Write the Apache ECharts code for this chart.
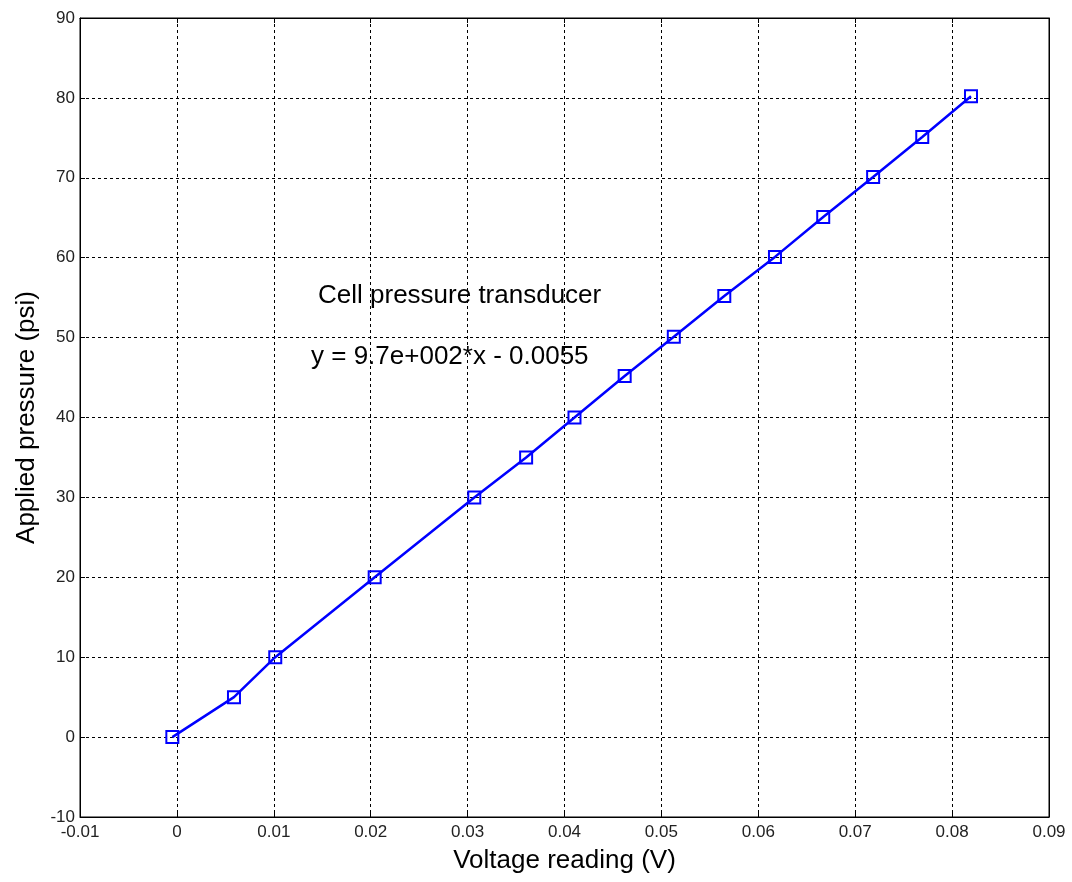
<!DOCTYPE html>
<html>
<head>
<meta charset="utf-8">
<script src="https://cdn.jsdelivr.net/npm/echarts@6/dist/echarts.min.js"></script>
<style>
  html, body { margin: 0; padding: 0; background: #fff; }
  #chart { width: 1072px; height: 882px; }
</style>
</head>
<body>
<div id="chart"></div>
<script>
// Calibration readings: transducer voltage (V) vs applied pressure (psi)
const voltage = [-0.00047, 0.00589, 0.01015, 0.02041, 0.03069, 0.03604, 0.04103, 0.04621,
                 0.05128, 0.05649, 0.06172, 0.06670, 0.07185, 0.07692, 0.08195];
const pressure = [0, 5, 10, 20, 30, 35, 40, 45.2, 50.1, 55.2, 60.1, 65.1, 70.1, 75.1, 80.2];

const xLabel = 'Voltage reading (V)';
const yLabel = 'Applied pressure (psi)';
const noteTitle = 'Cell pressure transducer';
const noteFit = 'y = 9.7e+002*x - 0.0055';

const FONT = '"Liberation Sans", Arial, sans-serif';

const chart = echarts.init(document.getElementById('chart'), null, { renderer: 'canvas' });

const dashed = { show: true, lineStyle: { color: '#000', width: 1, type: [3, 3] } };
const tickIn = { show: true, inside: true, length: 5, lineStyle: { color: '#000', width: 1 } };

function fmtX(v) {
  const r = Math.round(v * 100) / 100;
  return r === 0 ? '0' : r.toFixed(2);
}

chart.setOption({
  animation: false,
  backgroundColor: '#fff',
  grid: {
    left: 80, right: 23, top: 18, bottom: 65,
    show: true, borderColor: '#000', borderWidth: 1
  },
  xAxis: [{
    type: 'value', min: -0.01, max: 0.09, interval: 0.01,
    position: 'bottom',
    name: xLabel, nameLocation: 'middle', nameGap: 31,
    nameTextStyle: { fontFamily: FONT, fontSize: 26, color: '#000' },
    axisLine: { show: true, onZero: false, lineStyle: { color: '#000', width: 1 } },
    axisTick: tickIn,
    axisLabel: { fontFamily: FONT, fontSize: 17, color: '#222', margin: 7, formatter: fmtX },
    splitLine: dashed
  }, {
    type: 'value', min: -0.01, max: 0.09, interval: 0.01,
    position: 'top',
    axisLine: { show: true, onZero: false, lineStyle: { color: '#000', width: 1 } },
    axisTick: tickIn,
    axisLabel: { show: false },
    splitLine: { show: false }
  }],
  yAxis: [{
    type: 'value', min: -10, max: 90, interval: 10,
    position: 'left',
    name: yLabel, nameLocation: 'middle', nameGap: 38,
    nameTextStyle: { fontFamily: FONT, fontSize: 26, color: '#000' },
    axisLine: { show: true, onZero: false, lineStyle: { color: '#000', width: 1 } },
    axisTick: tickIn,
    axisLabel: { fontFamily: FONT, fontSize: 17, color: '#222', margin: 5 },
    splitLine: dashed
  }, {
    type: 'value', min: -10, max: 90, interval: 10,
    position: 'right',
    axisLine: { show: true, onZero: false, lineStyle: { color: '#000', width: 1 } },
    axisTick: tickIn,
    axisLabel: { show: false },
    splitLine: { show: false }
  }],
  series: [{
    type: 'line',
    data: voltage.map((v, i) => [v, pressure[i]]),
    symbol: 'rect',
    symbolSize: 12,
    showAllSymbol: true,
    lineStyle: { color: '#0000ff', width: 2.5 },
    itemStyle: { color: 'rgba(255,255,255,0)', borderColor: '#0000ff', borderWidth: 2 },
    z: 3
  }],
  graphic: [{
    type: 'text', x: 318, y: 296,
    style: { text: noteTitle, font: '26px ' + FONT, fill: '#000', verticalAlign: 'middle' }
  }, {
    type: 'text', x: 311, y: 357,
    style: { text: noteFit, font: '26px ' + FONT, fill: '#000', verticalAlign: 'middle' }
  }]
});
</script>
</body>
</html>
